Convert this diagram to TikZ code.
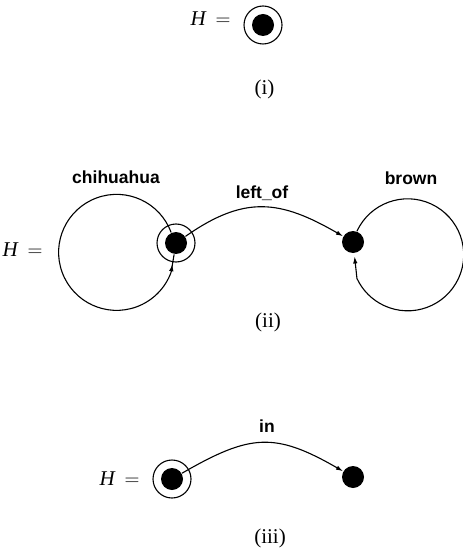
\documentclass[tikz,border=0pt]{standalone}
\usepackage{fontspec}
\setmainfont{Liberation Serif}
\setsansfont{Liberation Sans}
\usetikzlibrary{arrows.meta,positioning,decorations.markings}

\begin{document}
\begin{tikzpicture}[x=1bp, y=1bp, >={Latex[length=7bp,width=4.5bp]},
  font=\fontsize{21bp}{23bp}\selectfont, line width=1.1bp,
  vertex/.style={circle, fill, inner sep=0pt, minimum size=22bp},
  ring/.style={circle, draw, inner sep=0pt, minimum size=38bp},
  rel/.style={font=\sffamily\bfseries\fontsize{17.5bp}{19bp}\selectfont, anchor=base},
  caption/.style={anchor=base},
  lhs/.style={anchor=base west, inner sep=0pt},
  loop arrow/.style={postaction={decorate},
    decoration={markings, mark=at position -10bp with {\arrow{>}}}}]
  \useasboundingbox (0,0) rectangle (463,-548);

  % (i)
  \node[lhs] (H1) at (190,-26) {\textit{H}\hspace{9bp}$=$};
  \node[vertex] (v1) at (263,-25) {};
  \node[ring] (v1r) at (v1) {};
  \node[caption] (cap1) at (264.5,-95) {(i)};

  % (ii)
  \node[lhs] (H2) at (2,-256) {\textit{H}\hspace{9bp}$=$};
  \node[vertex] (dog) at (176,-243) {};
  \node[ring] (dogr) at (dog) {};
  \node[vertex] (col) at (353,-242) {};
  \node[rel] (lbldog) at (116,-184) {chihuahua};
  \node[rel] (lblcol) at (411,-185) {brown};
  \node[rel] (lblrel) at (262,-199) {left\_of};
  \draw[loop arrow] (dog.115) arc[start angle=20, end angle=340, radius=58] -- (dog);
  \draw[->, shorten >=3bp] (col.70) arc[start angle=155, end angle=-155, radius=56] -- (col);
  \draw[->] (dog) to[out=35, in=150, looseness=1.18] (col);
  \node[caption] (cap2) at (268,-327) {(ii)};

  % (iii)
  \node[lhs] (H3) at (99,-485) {\textit{H}\hspace{9bp}$=$};
  \node[vertex] (v3) at (172,-479) {};
  \node[ring] (v3r) at (v3) {};
  \node[vertex] (w3) at (353,-477) {};
  \node[rel] (lblin) at (267,-432) {in};
  \draw[->] (v3) to[out=30, in=150, looseness=1.25] (w3);
  \node[caption] (cap3) at (270,-543) {(iii)};
\end{tikzpicture}
\end{document}
